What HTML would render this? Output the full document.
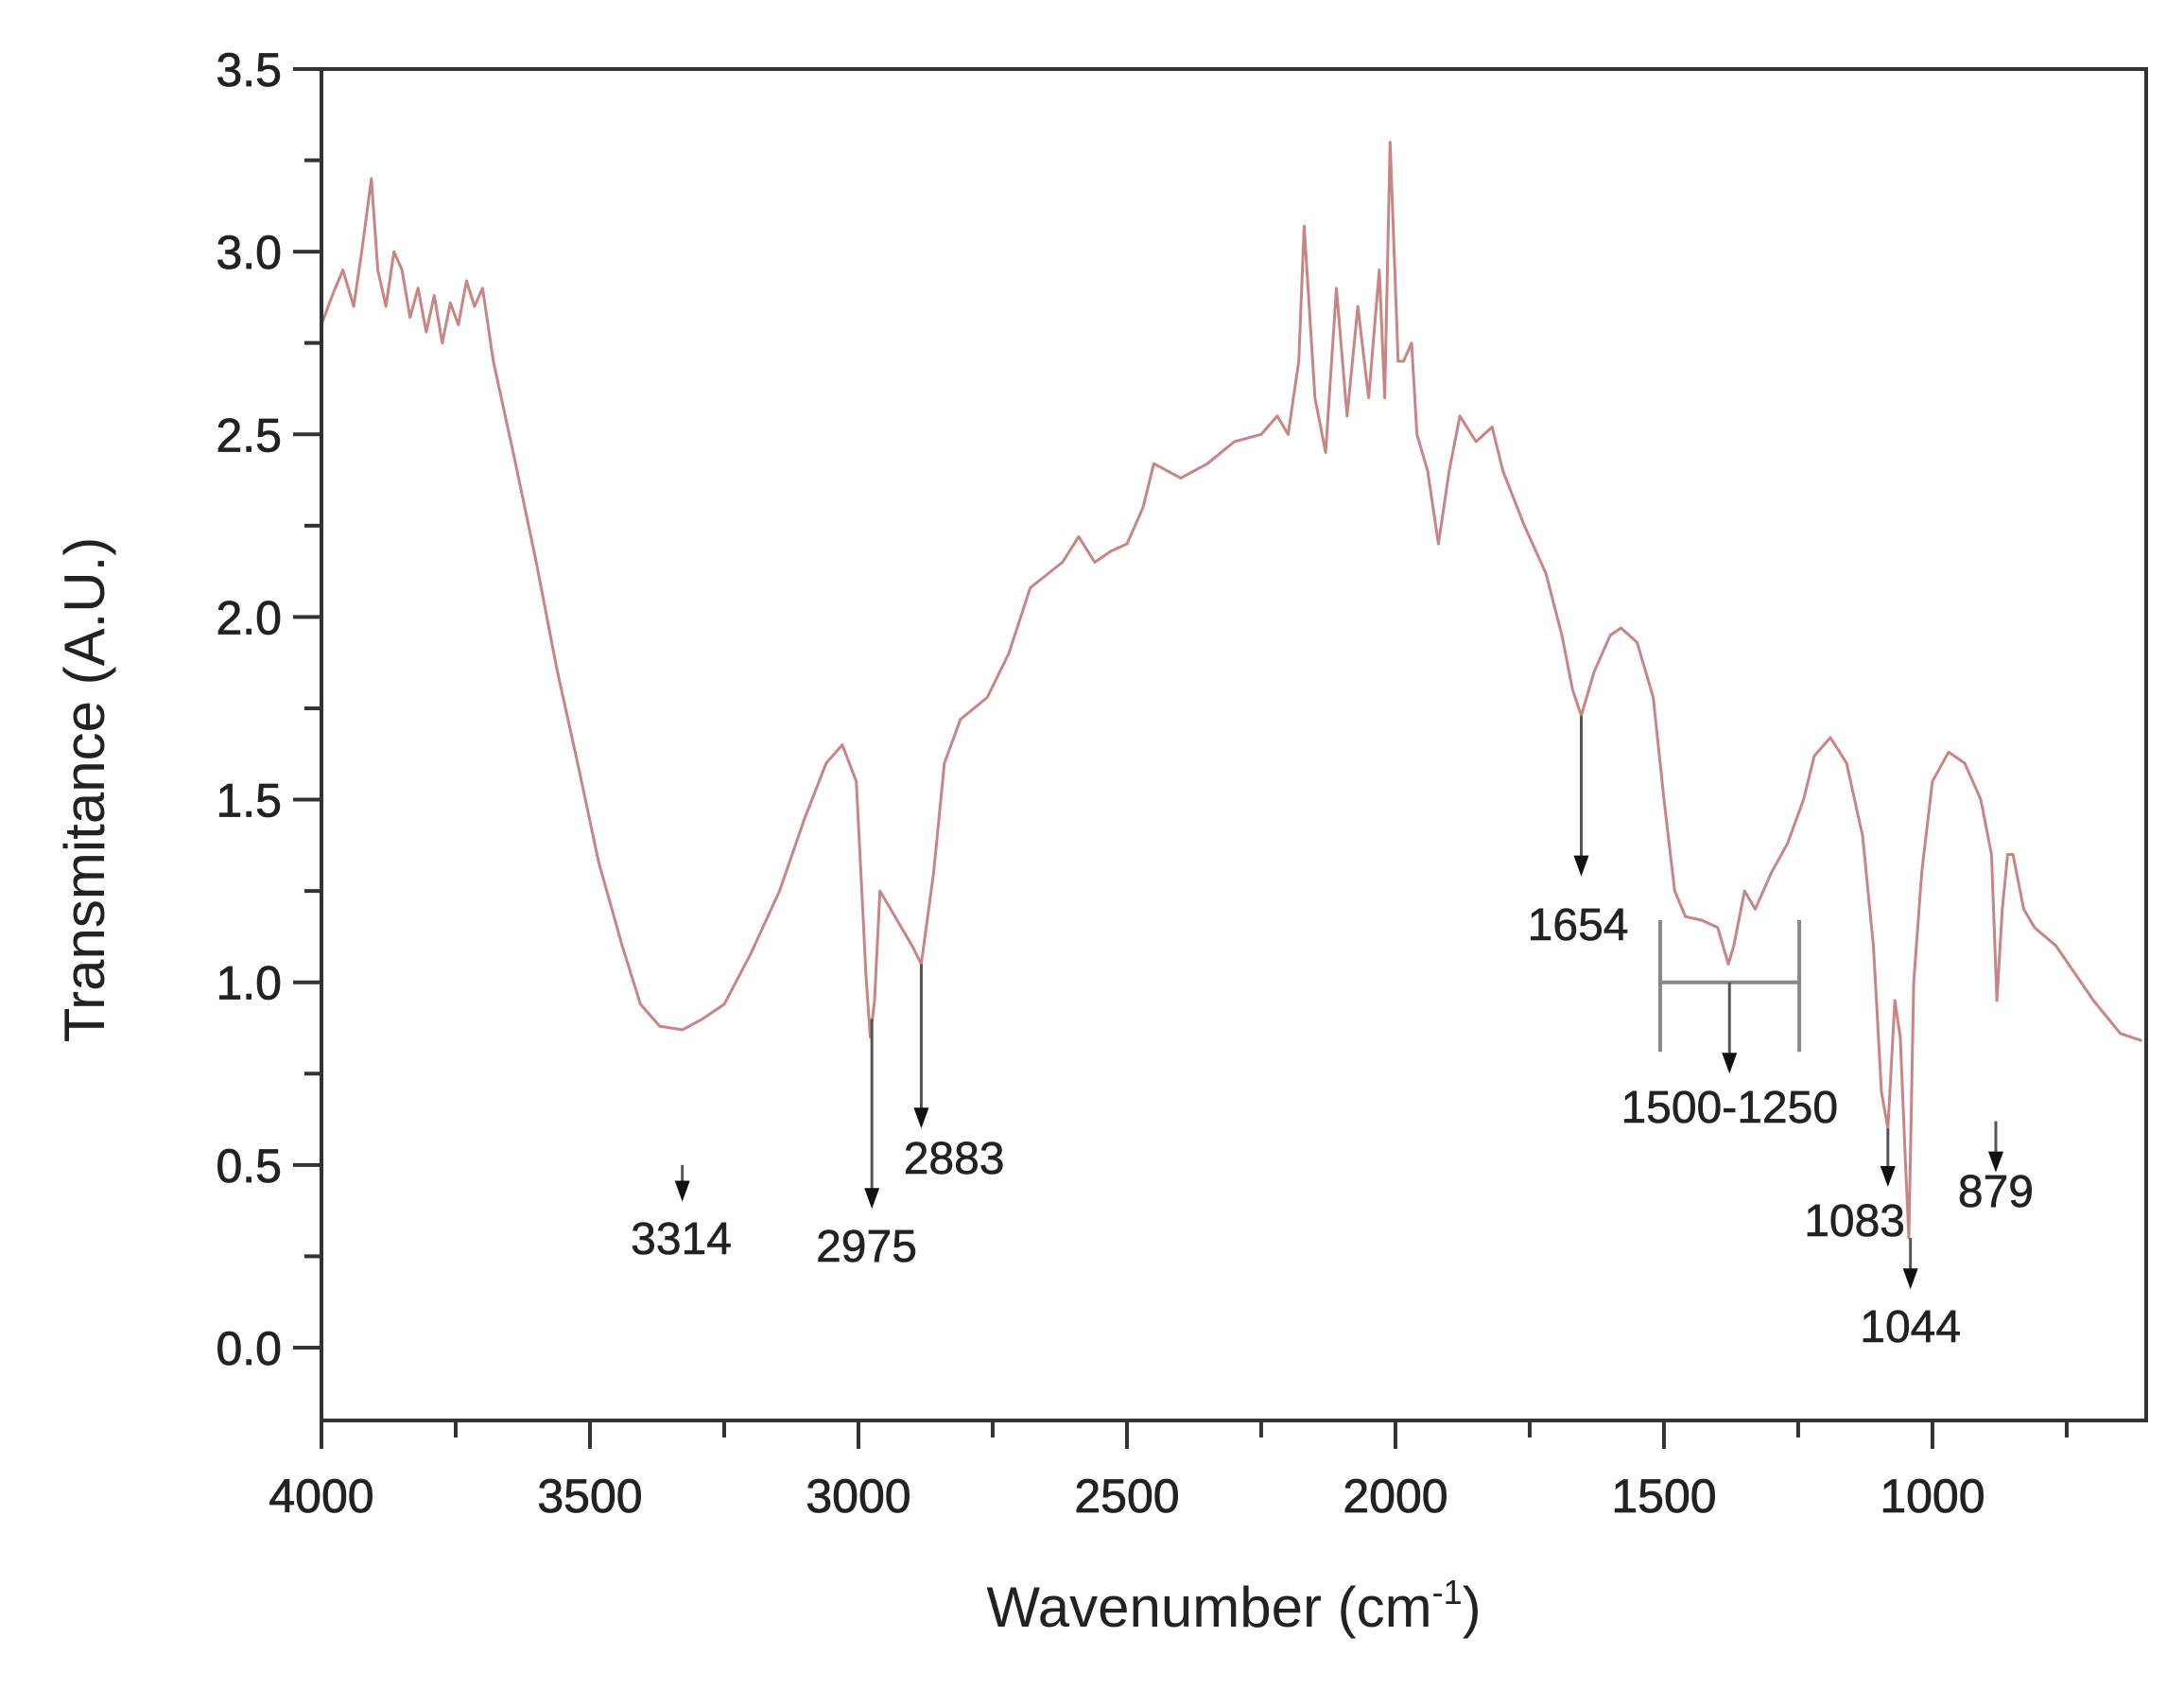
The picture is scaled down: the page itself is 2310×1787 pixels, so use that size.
<!DOCTYPE html>
<html><head><meta charset="utf-8"><style>
html,body{margin:0;padding:0;background:#fff;}
svg{display:block;font-family:"Liberation Sans",Arial,sans-serif;}
</style></head><body>
<svg id="chart" width="2310" height="1787" viewBox="0 0 2310 1787" xmlns="http://www.w3.org/2000/svg">
<g id="plot"></g>
</svg>
<script>
const wavenumbers=[4000,3980,3960,3940,3925,3907,3895,3880,3865,3850,3835,3820,3805,3790,3775,3760,3745,3730,3715,3700,3680,3640,3600,3562,3520,3484,3440,3406,3370,3328,3290,3250,3200,3147,3100,3060,3030,3004,2992,2986,2978,2970,2960,2940,2920,2900,2883,2860,2840,2810,2760,2720,2680,2620,2590,2560,2530,2500,2470,2450,2400,2350,2300,2250,2220,2200,2180,2170,2150,2130,2110,2090,2070,2050,2030,2020,2010,1995,1985,1970,1960,1940,1920,1900,1880,1850,1820,1800,1760,1720,1690,1670,1654,1630,1600,1580,1550,1520,1500,1480,1460,1430,1400,1380,1370,1350,1330,1300,1270,1240,1220,1190,1160,1130,1110,1095,1083,1070,1060,1050,1044,1035,1020,1000,970,940,910,890,880,870,860,850,830,810,770,700,650,610];
const transmittance=[2.80,2.88,2.95,2.85,3.0,3.2,2.95,2.85,3.0,2.95,2.82,2.90,2.78,2.88,2.75,2.86,2.80,2.92,2.85,2.90,2.70,2.43,2.15,1.86,1.58,1.33,1.10,0.94,0.88,0.87,0.90,0.94,1.08,1.25,1.45,1.60,1.65,1.55,1.20,1.02,0.85,0.95,1.25,1.20,1.15,1.10,1.05,1.30,1.60,1.72,1.78,1.90,2.08,2.15,2.22,2.15,2.18,2.20,2.30,2.42,2.38,2.42,2.48,2.50,2.55,2.50,2.70,3.07,2.60,2.45,2.90,2.55,2.85,2.60,2.95,2.60,3.30,2.70,2.70,2.75,2.50,2.40,2.20,2.40,2.55,2.48,2.52,2.40,2.25,2.12,1.95,1.80,1.73,1.85,1.95,1.97,1.93,1.78,1.50,1.25,1.18,1.17,1.15,1.05,1.10,1.25,1.20,1.30,1.38,1.50,1.62,1.67,1.60,1.40,1.10,0.70,0.60,0.95,0.85,0.50,0.30,1.00,1.30,1.55,1.63,1.60,1.50,1.35,0.95,1.20,1.35,1.35,1.20,1.15,1.10,0.95,0.86,0.84];
const xTicks=[4000,3500,3000,2500,2000,1500,1000];
const yTicks=[0.0,0.5,1.0,1.5,2.0,2.5,3.0,3.5];
const peakLabels=["3314","2975","2883","1654","1500-1250","1083","1044","879"];
const peakX=[3328,2975,2883,1654,1378,1083,1041,882];
const peakFrom=[0.50,0.90,1.05,1.73,1.00,0.60,0.30,0.62];
const peakTip=[0.40,0.38,0.60,1.29,0.75,0.44,0.16,0.48];
const labelX=[3330,2985,2822,1660,1378,1145,1041,882];
const labelY=[0.30,0.28,0.52,1.16,0.66,0.35,0.06,0.43];

const L=340,R=2270,T=73,B=1502;
const xMax=4000,xMin=602,yMin=-0.2,yMax=3.5;
const sx=v=>L+(xMax-v)/(xMax-xMin)*(R-L);
const sy=v=>1425-v*386.3;
const NS="http://www.w3.org/2000/svg";
const g=document.getElementById('plot');
function mk(tag,attrs){const e=document.createElementNS(NS,tag);for(const k in attrs)e.setAttribute(k,attrs[k]);g.appendChild(e);return e;}

let d="";wavenumbers.forEach((w,i)=>{d+=(i?"L":"M")+sx(w).toFixed(1)+","+sy(transmittance[i]).toFixed(1);});
const c=mk('path',{d:d,fill:'none',stroke:'#c98585','stroke-width':3,'stroke-linejoin':'round'});



const f=mk('rect',{x:L,y:T,width:R-L,height:B-T,fill:'none',stroke:'#333','stroke-width':4});



xTicks.forEach(v=>{
  const x=sx(v);
  const t=mk('line',{x1:x,y1:B,x2:x,y2:B+30,stroke:'#333','stroke-width':4});
  
  
  const m=mk('line',{x1:sx(v-250),y1:B,x2:sx(v-250),y2:B+18,stroke:'#333','stroke-width':4});
  
  
  const l=mk('text',{x:x,y:B+97,'font-size':50,'text-anchor':'middle',fill:'#222',stroke:'#222','stroke-width':0.8});
  l.textContent=v;
  
  
});
yTicks.forEach(v=>{
  const y=sy(v);
  const t=mk('line',{x1:L-30,y1:y,x2:L,y2:y,stroke:'#333','stroke-width':4});
  
  
  if(v<3.5){const m=mk('line',{x1:L-18,y1:sy(v+0.25),x2:L,y2:sy(v+0.25),stroke:'#333','stroke-width':4});
  
  }
  const l=mk('text',{x:L-42,y:y+18,'font-size':50,'text-anchor':'end',fill:'#222',stroke:'#222','stroke-width':0.8});
  l.textContent=v.toFixed(1);
  
  
});

[1507,1248].forEach(w=>{
  const b=mk('line',{x1:sx(w),y1:sy(1.17),x2:sx(w),y2:sy(0.81),stroke:'#888','stroke-width':4});
  
  
});
const hb=mk('line',{x1:sx(1507),y1:sy(1.0),x2:sx(1248),y2:sy(1.0),stroke:'#888','stroke-width':4});



peakLabels.forEach((s,i)=>{
  const x=sx(peakX[i]),y1=sy(peakFrom[i]),y2=sy(peakTip[i]);
  const ln=mk('line',{x1:x,y1:y1,x2:x,y2:y2-14,stroke:'#555','stroke-width':3});
  
  
  const ah=mk('polygon',{points:`${x-8},${y2-22} ${x+8},${y2-22} ${x},${y2}`,fill:'#111'});
  
  
  const t=mk('text',{x:sx(labelX[i]),y:sy(labelY[i])+17,'font-size':48,'text-anchor':'middle',fill:'#222',stroke:'#222','stroke-width':0.6});
  t.textContent=s;
  
  
});

const xt=mk('text',{x:1305,y:1720,'font-size':60,'text-anchor':'middle',fill:'#222'});
xt.innerHTML='Wavenumber (cm<tspan dy="-24" font-size="36">-1</tspan><tspan dy="24">)</tspan>';


const yt=mk('text',{x:0,y:0,'font-size':60,'text-anchor':'middle',fill:'#222',transform:'translate(110,835) rotate(-90)'});
yt.textContent='Transmitance (A.U.)';


</script>
</body></html>
